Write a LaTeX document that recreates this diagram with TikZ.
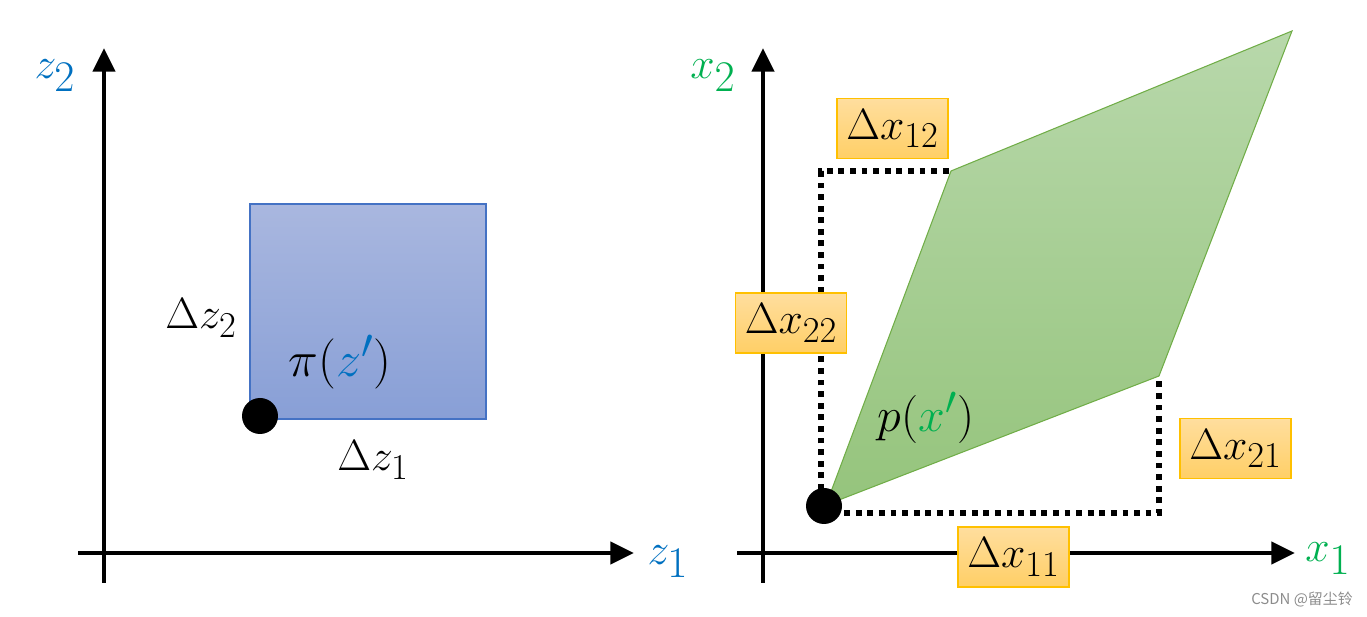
\documentclass[tikz,border=0pt]{standalone}
\usepackage{fontspec}
\newfontfamily\cjk{Noto Sans CJK SC}
\usepackage{tikz}
\usetikzlibrary{arrows.meta, calc, positioning}
\definecolor{zBlue}{HTML}{0070C0}
\definecolor{xGreen}{HTML}{00B050}
\definecolor{sqTop}{HTML}{A9B7DF}
\definecolor{sqBot}{HTML}{889FD6}
\definecolor{sqLine}{HTML}{4472C4}
\definecolor{parTop}{HTML}{B8D8AB}
\definecolor{parBot}{HTML}{95C47C}
\definecolor{parLine}{HTML}{70AD47}
\definecolor{boxTop}{HTML}{FFDE9E}
\definecolor{boxBot}{HTML}{FFCF66}
\definecolor{boxLine}{HTML}{FFC000}
\tikzstyle{axis} = [line width=2.8pt, -{Triangle[length=13.5pt, width=12.5pt]}]
\tikzstyle{dot} = [circle, fill=black, inner sep=0pt, minimum size=.72cm]
\tikzstyle{mathText} = [font=\fontsize{24.88}{30}\selectfont, inner sep=0pt, anchor=center]
\tikzstyle{axisLabel} = [mathText, font=\fontsize{34}{38}\selectfont]
\tikzstyle{deltaBox} = [mathText, draw=boxLine, line width=.8pt, top color=boxTop, bottom color=boxBot, minimum width=2.22cm, minimum height=1.2cm]
\tikzstyle{guide} = [line width=3.3pt, dash pattern={on 3.3pt off 3.3pt}]
\tikzstyle{waterMark} = [font=\cjk\fontsize{8.5}{10}\selectfont, text=black!45]

\begin{document}
\begin{tikzpicture}[x=.02cm, y=-.02cm]
    \useasboundingbox (0,0) rectangle (1367,617);

    % left axes
    \coordinate (zO1) at (78,553);
    \coordinate (zE1) at (634,553);
    \coordinate (zO2) at (104,583);
    \coordinate (zE2) at (104,48);
    \draw [axis] (zO1) -- (zE1);
    \draw [axis] (zO2) -- (zE2);
    \node (z1) [axisLabel] at (668,562) {$\color{zBlue}z_1$};
    \node (z2) [axisLabel] at (55,76) {$\color{zBlue}z_2$};

    % the square
    \node (sq) [draw=sqLine, line width=.6pt, top color=sqTop, bottom color=sqBot,
        minimum width=4.72cm, minimum height=4.3cm, inner sep=0pt] at (368,311.5) {};
    \node (zDot) [dot] at (260,416) {};
    \node (piz) [mathText, scale=1.15] at (340,362) {$\pi(\textcolor{zBlue}{z'})$};
    \node (dz2) [mathText] at (201,318) {$\Delta z_2$};
    \node (dz1) [mathText] at (373,460) {$\Delta z_1$};

    % right axes
    \coordinate (xO1) at (737,553);
    \coordinate (xE1) at (1295,553);
    \coordinate (xO2) at (763,583);
    \coordinate (xE2) at (763,48);
    \draw [axis] (xO1) -- (xE1);
    \draw [axis] (xO2) -- (xE2);
    \node (x1) [axisLabel] at (1328,559) {$\color{xGreen}x_1$};
    \node (x2) [axisLabel] at (713,76) {$\color{xGreen}x_2$};

    % the parallelogram
    \coordinate (p0) at (826,505);
    \coordinate (pTL) at (951,171);
    \coordinate (pTR) at (1292,31);
    \coordinate (pBR) at (1159,376);
    \draw [parLine, line width=.6pt, top color=parTop, bottom color=parBot]
        (p0) -- (pTL) -- (pTR) -- (pBR) -- cycle;

    % dotted spans
    \coordinate (g0) at (821,513);
    \draw [guide] (g0) |- (pTL);
    \draw [guide] (g0) -| (pBR);
    \node (xDot) [dot] at (824,506) {};
    \node (px) [mathText, scale=1.1] at (926,418) {$p(\textcolor{xGreen}{x'})$};

    \node (dx12) [deltaBox] at (892.5,128.5) {$\Delta x_{12}$};
    \node (dx22) [deltaBox] at (791,323) {$\Delta x_{22}$};
    \node (dx21) [deltaBox] at (1235.5,448.5) {$\Delta x_{21}$};
    \node (dx11) [deltaBox] at (1013.5,557) {$\Delta x_{11}$};

    \node (wm) [waterMark] at (1302,600) {CSDN @留尘铃};
\end{tikzpicture}
\end{document}
